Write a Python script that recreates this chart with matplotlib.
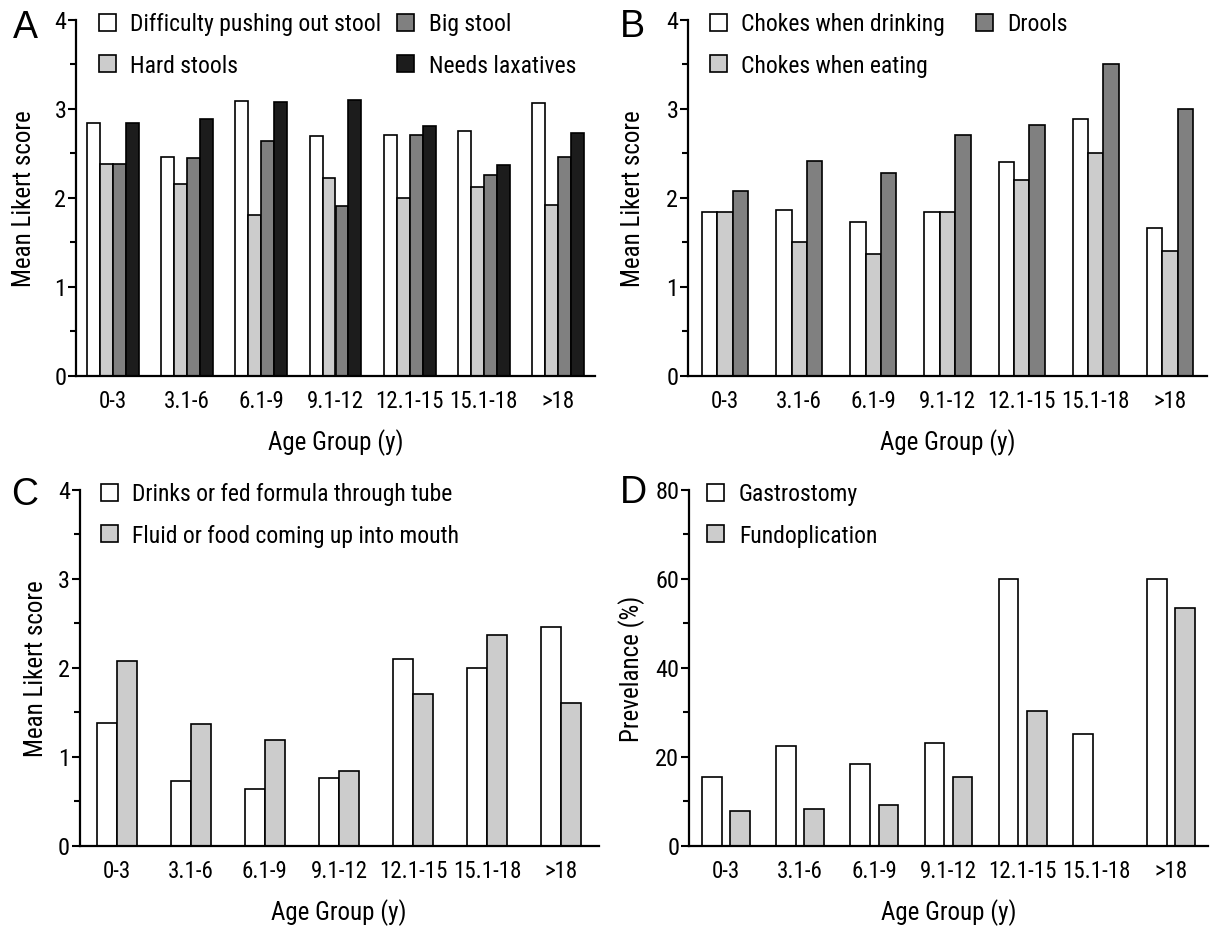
import numpy as np
import matplotlib.pyplot as plt
from matplotlib.ticker import MultipleLocator

plt.rcParams['font.family'] = ['Roboto Condensed', 'Liberation Sans Narrow', 'Liberation Sans', 'DejaVu Sans']

groups = ['0-3', '3.1-6', '6.1-9', '9.1-12', '12.1-15', '15.1-18', '>18']

# A: bowel symptoms (mean Likert score)
difficulty_stool = [2.84, 2.46, 3.08, 2.69, 2.70, 2.75, 3.06]
hard_stools = [2.38, 2.15, 1.80, 2.22, 1.99, 2.12, 1.92]
big_stool = [2.38, 2.44, 2.63, 1.91, 2.70, 2.25, 2.46]
needs_laxatives = [2.84, 2.88, 3.07, 3.10, 2.80, 2.37, 2.73]

# B: swallowing
chokes_drinking = [1.84, 1.86, 1.72, 1.84, 2.40, 2.88, 1.66]
chokes_eating = [1.84, 1.50, 1.36, 1.84, 2.20, 2.50, 1.40]
drools = [2.07, 2.41, 2.27, 2.70, 2.81, 3.50, 3.00]

# C: feeding
tube_feeding = [1.38, 0.72, 0.63, 0.76, 2.10, 2.00, 2.46]
fluid_up = [2.07, 1.36, 1.18, 0.84, 1.70, 2.37, 1.60]

# D: prevalence (%)
gastrostomy = [15.5, 22.3, 18.3, 23.1, 60.0, 25.0, 60.0]
fundoplication = [7.8, 8.3, 9.2, 15.5, 30.2, 0.0, 53.3]

WHITE, LIGHT, DARK, BLACK = '#ffffff', '#cccccc', '#808080', '#1c1c1c'

W, H = 1216, 929
fig = plt.figure(figsize=(W / 100, H / 100), dpi=100)


def add_panel(left_px, bottom_px):
    # axes rectangle in pixels: left spine x, y of zero line
    return fig.add_axes([left_px / W, 1 - bottom_px / H, 519 / W, 356 / H])


def style(ax, ymax, major, minor, ylabel, label_x):
    x = np.arange(len(groups))
    ax.set_xlim(-0.5, 6.5)
    ax.set_ylim(0, ymax)
    for side in ['top', 'right']:
        ax.spines[side].set_visible(False)
    for side in ['left', 'bottom']:
        ax.spines[side].set_linewidth(1.6)
    ax.yaxis.set_major_locator(MultipleLocator(major))
    ax.yaxis.set_minor_locator(MultipleLocator(minor))
    ax.tick_params(axis='y', which='major', length=6, width=1.5, labelsize=17.5, pad=1)
    ax.tick_params(axis='y', which='minor', length=4.5, width=1.5)
    ax.set_xticks(x, groups)
    ax.tick_params(axis='x', length=0, labelsize=16.5, pad=10)
    ax.set_xlabel('Age Group (y)', fontsize=18, labelpad=11)
    ax.set_ylabel(ylabel, fontsize=18)
    ax.yaxis.set_label_coords(label_x, 0.5)


def bars(ax, series, colors, labels, width, offsets):
    x = np.arange(len(groups))
    for vals, c, lab, off in zip(series, colors, labels, offsets):
        ax.bar(x + off, vals, width, color=c, edgecolor='black', linewidth=1.2, label=lab)


def legend(ax, ncol, anchor, colspace=1.0):
    ax.legend(loc='upper left', bbox_to_anchor=anchor, ncol=ncol, frameon=False,
              fontsize=17, handlelength=0.72, handleheight=0.72, handletextpad=0.62,
              labelspacing=0.78, columnspacing=colspace, borderpad=0, borderaxespad=0)


# Panel A
axA = add_panel(76, 376.5)
w = 0.175
bars(axA, [difficulty_stool, hard_stools, big_stool, needs_laxatives],
     [WHITE, LIGHT, DARK, BLACK],
     ['Difficulty pushing out stool', 'Hard stools', 'Big stool', 'Needs laxatives'],
     w, [-1.5 * w, -0.5 * w, 0.5 * w, 1.5 * w])
style(axA, 4, 1, 0.5, 'Mean Likert score', -0.077)
legend(axA, 2, (0.044, 1.02), colspace=0.65)

# Panel B
axB = add_panel(688, 376.5)
w = 0.207
bars(axB, [chokes_drinking, chokes_eating, drools], [WHITE, LIGHT, DARK],
     ['Chokes when drinking', 'Chokes when eating', 'Drools'], w, [-w, 0, w])
style(axB, 4, 1, 0.5, 'Mean Likert score', -0.083)
legend(axB, 2, (0.042, 1.02), colspace=1.3)

# Panel C
axC = add_panel(79.5, 846.5)
w = 0.27
bars(axC, [tube_feeding, fluid_up], [WHITE, LIGHT],
     ['Drinks or fed formula through tube', 'Fluid or food coming up into mouth'],
     w, [-w / 2, w / 2])
style(axC, 4, 1, 0.5, 'Mean Likert score', -0.061)
legend(axC, 1, (0.041, 1.02))

# Panel D
axD = add_panel(689, 846.5)
w = 0.265
bars(axD, [gastrostomy, fundoplication], [WHITE, LIGHT],
     ['Gastrostomy', 'Fundoplication'], w, [-0.19, 0.19])
style(axD, 80, 20, 10, 'Prevelance (%)', -0.085)
legend(axD, 1, (0.035, 1.02))

# panel letters
for letter, (px, py) in zip('ABCD', [(25, 28), (632, 27), (25, 495), (633, 493)]):
    fig.text(px / W, 1 - py / H, letter, fontsize=27, ha='center', va='center',
             family=['Liberation Sans', 'DejaVu Sans'])

fig.savefig('out.png', dpi=100)
